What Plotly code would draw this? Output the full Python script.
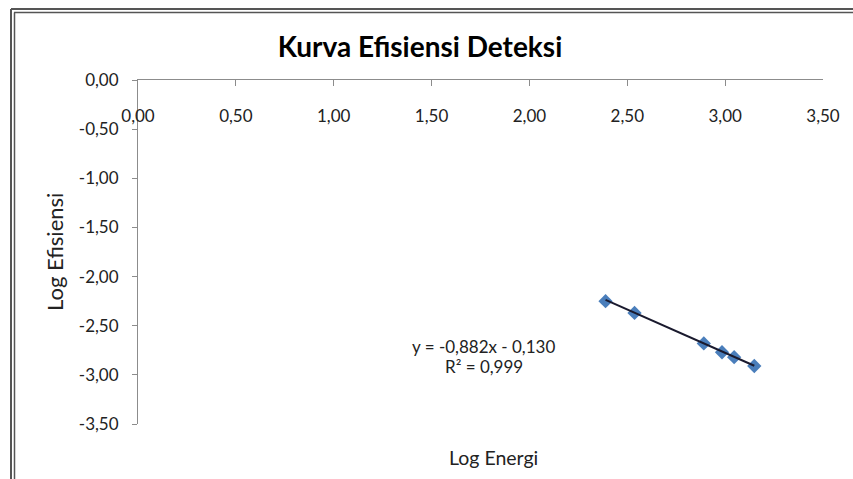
import plotly.graph_objects as go

# Data
log_energi = [2.389, 2.537, 2.891, 2.984, 3.046, 3.149]
log_efisiensi = [-2.25, -2.37, -2.68, -2.77, -2.82, -2.91]
slope = -0.882
intercept = -0.130
eq_text = "y = -0,882x - 0,130"
r2_text = "R² = 0,999"

x_tickvals = [0, 0.5, 1.0, 1.5, 2.0, 2.5, 3.0, 3.5]
x_ticktext = ["0,00", "0,50", "1,00", "1,50", "2,00", "2,50", "3,00", "3,50"]
y_tickvals = [0, -0.5, -1.0, -1.5, -2.0, -2.5, -3.0, -3.5]
y_ticktext = ["0,00", "-0,50", "-1,00", "-1,50", "-2,00", "-2,50", "-3,00", "-3,50"]

W, H = 853, 479
FONT = "Lato, 'Open Sans', sans-serif"

def px_x(p):
    return p / W

def px_y(p):
    return 1 - p / H

x_dom = [px_x(138), px_x(823)]
y_dom = [px_y(424), px_y(80)]

trend_x = [min(log_energi), max(log_energi)]
trend_y = [slope * v + intercept for v in trend_x]

fig = go.Figure()
fig.add_trace(go.Scatter(
    x=log_energi, y=log_efisiensi, mode="markers",
    marker=dict(symbol="diamond", size=11, color="#4A7EBB",
                line=dict(width=0)),
    showlegend=False, hoverinfo="skip"))
fig.add_trace(go.Scatter(
    x=trend_x, y=trend_y, mode="lines",
    line=dict(color="#1a1a2e", width=2),
    showlegend=False, hoverinfo="skip"))
# helper trace so the top axis line is drawn
fig.add_trace(go.Scatter(
    x=trend_x, y=trend_y, mode="markers", xaxis="x2",
    marker=dict(opacity=0), showlegend=False, hoverinfo="skip"))

ann_font = dict(size=17, color="#222222")

fig.update_layout(
    width=W, height=H,
    margin=dict(l=0, r=0, t=0, b=0, pad=0, autoexpand=False),
    paper_bgcolor="white", plot_bgcolor="white",
    font=dict(family=FONT, size=17, color="#222222"),
    title=dict(text="<b>Kurva Efisiensi Deteksi</b>", x=420 / W, xanchor="center",
               y=px_y(47), yanchor="middle", automargin=False,
               font=dict(family=FONT, size=28, color="#000000")),
    xaxis=dict(domain=x_dom, range=[0, 3.5], anchor="free", position=px_y(104),
               side="bottom", showline=False, ticks="", showgrid=False,
               zeroline=False, tickvals=x_tickvals, ticktext=x_ticktext,
               automargin=False, tickfont=dict(size=17, color="#222222")),
    xaxis2=dict(domain=x_dom, range=[0, 3.5], overlaying="x", side="top",
                anchor="y", showline=True, linecolor="#8c8c8c", linewidth=1,
                ticks="inside", ticklen=6, tickcolor="#8c8c8c",
                tickvals=x_tickvals, showticklabels=False, showgrid=False,
                zeroline=False, automargin=False),
    yaxis=dict(domain=y_dom, range=[-3.5, 0], showline=True, linecolor="#8c8c8c",
               linewidth=1, ticks="outside", ticklen=5, tickcolor="#8c8c8c",
               tickvals=y_tickvals, ticktext=y_ticktext, showgrid=False,
               zeroline=False, tickfont=dict(size=17, color="#222222"),
               ticklabelstandoff=10, automargin=False),
    annotations=[
        dict(text=eq_text, x=483 / W, y=px_y(346), xref="paper", yref="paper",
             xanchor="center", yanchor="middle", showarrow=False, font=ann_font),
        dict(text=r2_text, x=484 / W, y=px_y(366), xref="paper", yref="paper",
             xanchor="center", yanchor="middle", showarrow=False, font=ann_font),
        dict(text="Log Energi", x=494 / W, y=px_y(457), xref="paper", yref="paper",
             xanchor="center", yanchor="middle", showarrow=False,
             font=dict(size=19.5, color="#222222")),
        dict(text="Log Efisiensi", x=54 / W, y=px_y(252), xref="paper", yref="paper",
             xanchor="center", yanchor="middle", showarrow=False, textangle=-90,
             font=dict(size=22, color="#222222")),
    ],
    shapes=[
        dict(type="line", xref="paper", yref="paper", x0=px_x(11), x1=1,
             y0=px_y(9), y1=px_y(9), line=dict(color="#555555", width=2)),
        dict(type="line", xref="paper", yref="paper", x0=px_x(14), x1=1,
             y0=px_y(12.5), y1=px_y(12.5), line=dict(color="#555555", width=1.5)),
        dict(type="line", xref="paper", yref="paper", x0=px_x(11), x1=px_x(11),
             y0=0, y1=px_y(9), line=dict(color="#555555", width=2)),
        dict(type="line", xref="paper", yref="paper", x0=px_x(14.5), x1=px_x(14.5),
             y0=0, y1=px_y(12.5), line=dict(color="#555555", width=1.5)),
    ],
)

fig.write_html("out.html", config={"displayModeBar": False},
               post_script="document.body.style.margin='0px';")
